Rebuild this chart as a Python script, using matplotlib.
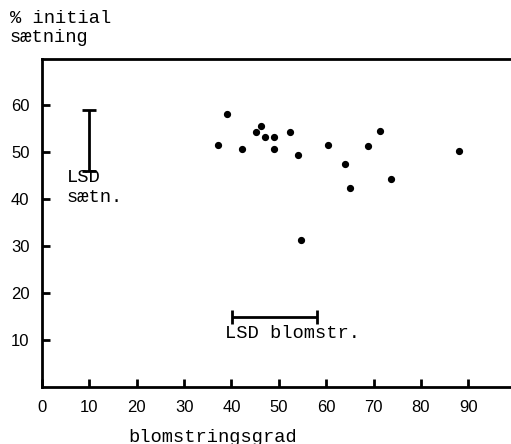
import matplotlib.pyplot as plt

# flowering degree vs. % initial fruit set
blomstring = [39.0, 37.1, 42.2, 45.2, 46.2, 47.1, 49.0, 49.0, 52.4, 54.0,
              54.7, 60.4, 64.0, 65.0, 68.8, 71.4, 73.7, 88.0]
saetning = [58.2, 51.5, 50.6, 54.3, 55.5, 53.3, 53.3, 50.6, 54.2, 49.3,
            31.3, 51.6, 47.4, 42.4, 51.3, 54.5, 44.3, 50.2]

# LSD bars
lsd_saetn_x = 10
lsd_saetn_y = [46.0, 58.9]
lsd_blomstr_x = [40.2, 58.0]
lsd_blomstr_y = 15.0

x_ticks = [0, 10, 20, 30, 40, 50, 60, 70, 80, 90]
y_ticks = [10, 20, 30, 40, 50, 60]

mono = "Liberation Mono"

fig = plt.figure(figsize=(5.11, 4.44), dpi=100)
ax = fig.add_axes([42 / 511, 57 / 444, 469 / 511, 328 / 444])

ax.plot(blomstring, saetning, "o", color="black", markersize=4.2)

# vertical LSD (saetning)
mid = sum(lsd_saetn_y) / 2
half = (lsd_saetn_y[1] - lsd_saetn_y[0]) / 2
ax.errorbar(lsd_saetn_x, mid, yerr=half, color="black", linewidth=2,
            capsize=5, capthick=2)
ax.text(5.2, 44.5, "LSD", fontsize=13.5, family=mono, va="center", ha="left")
ax.text(5.2, 40.3, "sætn.", fontsize=13.5, family=mono, va="center", ha="left")

# horizontal LSD (blomstring)
xmid = sum(lsd_blomstr_x) / 2
xhalf = (lsd_blomstr_x[1] - lsd_blomstr_x[0]) / 2
ax.errorbar(xmid, lsd_blomstr_y, xerr=xhalf, color="black", linewidth=2,
            capsize=5, capthick=2)
ax.text(38.6, 11.3, "LSD blomstr.", fontsize=13.5, family=mono, va="center", ha="left")

ax.set_xlim(0, 99)
ax.set_ylim(0, 69.8)
ax.set_xticks(x_ticks)
ax.set_yticks(y_ticks)
ax.tick_params(direction="in", length=6, width=2, labelsize=12, pad=9)
for lab in ax.get_xticklabels() + ax.get_yticklabels():
    lab.set_family("Liberation Sans")

ax.spines["right"].set_visible(False)
for s in ("left", "bottom", "top"):
    ax.spines[s].set_linewidth(2)

fig.text(10 / 511, 1 - 28 / 444, "% initial\nsætning", fontsize=13.5, family=mono,
         va="center", ha="left", linespacing=1.1)
fig.text(128 / 511, 1 - 437 / 444, "blomstringsgrad", fontsize=13.5, family=mono,
         va="center", ha="left")

fig.savefig("out.png", dpi=100)
